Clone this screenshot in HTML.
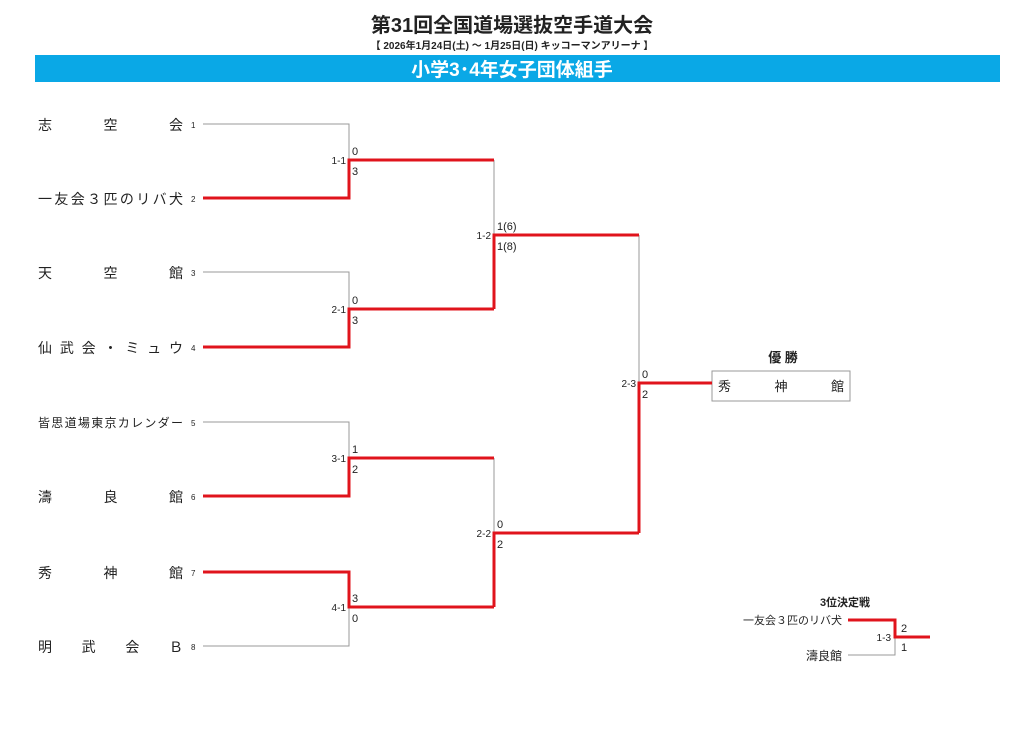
<!DOCTYPE html>
<html><head><meta charset="utf-8"><style>
body{margin:0;background:#fff;width:1024px;height:724px;overflow:hidden}
svg text{font-family:"Liberation Sans","Noto Sans CJK JP",sans-serif;fill:#222}
</style></head><body>
<svg width="1024" height="724" xmlns="http://www.w3.org/2000/svg">
<text x="512" y="32" font-size="20" font-weight="bold" text-anchor="middle" fill="#111">第31回全国道場選抜空手道大会</text>
<text x="512" y="49" font-size="10" font-weight="bold" text-anchor="middle">【 2026年1月24日(土) ～ 1月25日(日)  キッコーマンアリーナ 】</text>
<rect x="35" y="55" width="965" height="27" fill="#0aa8e6"/>
<text x="512" y="76" font-size="19" font-weight="bold" text-anchor="middle" style="fill:#fff">小学3･4年女子団体組手</text>

<g font-size="14">
<text x="38" y="130" textLength="145" lengthAdjust="spacing">志空会</text>
<text x="38" y="204" textLength="145" lengthAdjust="spacing">一友会３匹のリバ犬</text>
<text x="38" y="278" textLength="145" lengthAdjust="spacing">天空館</text>
<text x="38" y="353" textLength="145" lengthAdjust="spacing">仙武会・ミュウ</text>
<text x="38" y="427" textLength="145" lengthAdjust="spacing" font-size="12">皆思道場東京カレンダー</text>
<text x="38" y="502" textLength="145" lengthAdjust="spacing">濤良館</text>
<text x="38" y="578" textLength="145" lengthAdjust="spacing">秀神館</text>
<text x="38" y="652" textLength="145" lengthAdjust="spacing">明武会Ｂ</text>
</g>
<g font-size="8">
<text x="191" y="128">1</text><text x="191" y="202">2</text><text x="191" y="276">3</text><text x="191" y="351">4</text>
<text x="191" y="426">5</text><text x="191" y="500">6</text><text x="191" y="576">7</text><text x="191" y="650">8</text>
</g>

<g fill="none" stroke="#999" stroke-width="1">
<path d="M203 124H349V160"/>
<path d="M203 272H349V309"/>
<path d="M203 422H349V458"/>
<path d="M203 646H349V607"/>
<path d="M494 160V235"/>
<path d="M494 458V533"/>
<path d="M639 235V383"/>
<path d="M848 655H895V637"/>
<rect x="712" y="371" width="138" height="30"/>
</g>
<g fill="none" stroke="#e0141c" stroke-width="3">
<path d="M203 198H349V160H494"/>
<path d="M203 347H349V309H494"/>
<path d="M203 496H349V458H494"/>
<path d="M203 572H349V607H494"/>
<path d="M494 309V235H639"/>
<path d="M494 607V533H639"/>
<path d="M639 533V383H712"/>
<path d="M848 620H895V637H930"/>
</g>

<g font-size="11">
<text x="352" y="155">0</text><text x="352" y="175">3</text>
<text x="352" y="304">0</text><text x="352" y="324">3</text>
<text x="352" y="453">1</text><text x="352" y="473">2</text>
<text x="352" y="602">3</text><text x="352" y="622">0</text>
<text x="497" y="230">1(6)</text><text x="497" y="250">1(8)</text>
<text x="497" y="528">0</text><text x="497" y="548">2</text>
<text x="642" y="378">0</text><text x="642" y="398">2</text>
<text x="901" y="632">2</text><text x="901" y="651">1</text>
</g>
<g font-size="10" text-anchor="end">
<text x="346" y="164">1-1</text><text x="346" y="313">2-1</text>
<text x="346" y="462">3-1</text><text x="346" y="611">4-1</text>
<text x="491" y="239">1-2</text><text x="491" y="537">2-2</text>
<text x="636" y="387">2-3</text><text x="891" y="641">1-3</text>
</g>

<text x="783" y="362" font-size="13" font-weight="bold" text-anchor="middle">優 勝</text>
<text x="718" y="391" font-size="13" textLength="126" lengthAdjust="spacing">秀神館</text>

<text x="845" y="606" font-size="11" font-weight="bold" text-anchor="middle">3位決定戦</text>
<text x="842" y="624" font-size="11" text-anchor="end">一友会３匹のリバ犬</text>
<text x="842" y="660" font-size="12" text-anchor="end">濤良館</text>
</svg>
</body></html>
